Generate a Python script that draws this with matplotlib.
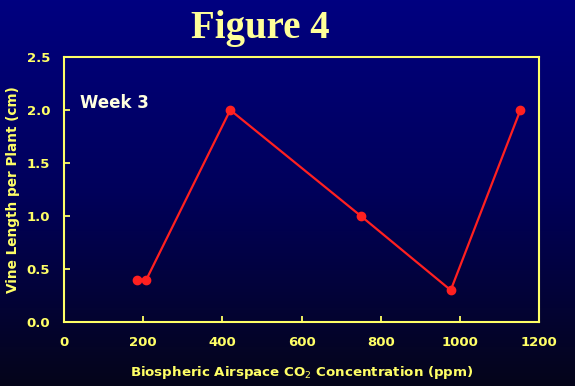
import numpy as np
import matplotlib
matplotlib.use("Agg")
import matplotlib.pyplot as plt
from matplotlib.colors import LinearSegmentedColormap

# data
co2_ppm = [184, 208, 420, 750, 977, 1153]
vine_length = [0.4, 0.4, 2.0, 1.0, 0.3, 2.0]
x_ticks = [0, 200, 400, 600, 800, 1000, 1200]
y_ticks = [0.0, 0.5, 1.0, 1.5, 2.0, 2.5]

YELLOW = "#FFFF66"
TITLE_YELLOW = "#FFFF99"
RED = "#FF2020"

fig = plt.figure(figsize=(5.75, 3.86), dpi=100)

# navy-to-black vertical gradient background
bg = fig.add_axes([0, 0, 1, 1], zorder=-10)
cmap = LinearSegmentedColormap.from_list("bg", ["#000080", "#00005a", "#05051a"])
bg.imshow(np.linspace(0, 1, 256).reshape(-1, 1), aspect="auto", cmap=cmap,
          extent=[0, 1, 0, 1])
bg.set_axis_off()

ax = fig.add_axes([0.1113, 0.1658, 0.8261, 0.6865])
ax.patch.set_alpha(0)

ax.plot(co2_ppm, vine_length, color=RED, linewidth=1.6, marker="o",
        markersize=6, markerfacecolor=RED, markeredgecolor=RED)

ax.set_xlim(0, 1200)
ax.set_ylim(0, 2.5)
ax.set_xticks(x_ticks)
ax.set_yticks(y_ticks)
ax.set_xticklabels([str(t) for t in x_ticks])
ax.set_yticklabels([f"{t:.1f}" for t in y_ticks])

for side in ax.spines.values():
    side.set_color(YELLOW)
    side.set_linewidth(1.5)

ax.tick_params(direction="in", length=4, width=1.3, color=YELLOW,
               labelcolor=YELLOW, labelsize=9.5, pad=10)
for lab in ax.get_xticklabels() + ax.get_yticklabels():
    lab.set_fontweight("bold")
    lab.set_family("DejaVu Sans")

ax.set_xlabel("Biospheric Airspace CO$_2$ Concentration (ppm)", color=YELLOW,
              fontsize=9.6, fontweight="bold", family="DejaVu Sans", labelpad=11)
ax.set_ylabel("Vine Length per Plant (cm)", color=YELLOW, fontsize=9.8,
              fontweight="bold", family="DejaVu Sans", labelpad=5)

ax.text(0.034, 0.826, "Week 3", transform=ax.transAxes, color="#FFFFE0",
        fontsize=12, fontweight="bold", family="DejaVu Sans", va="center")

fig.text(0.452, 0.927, "Figure 4", color=TITLE_YELLOW, fontsize=28,
         fontweight="bold", family="Liberation Serif", ha="center", va="center")

fig.savefig("out.png", dpi=100)
